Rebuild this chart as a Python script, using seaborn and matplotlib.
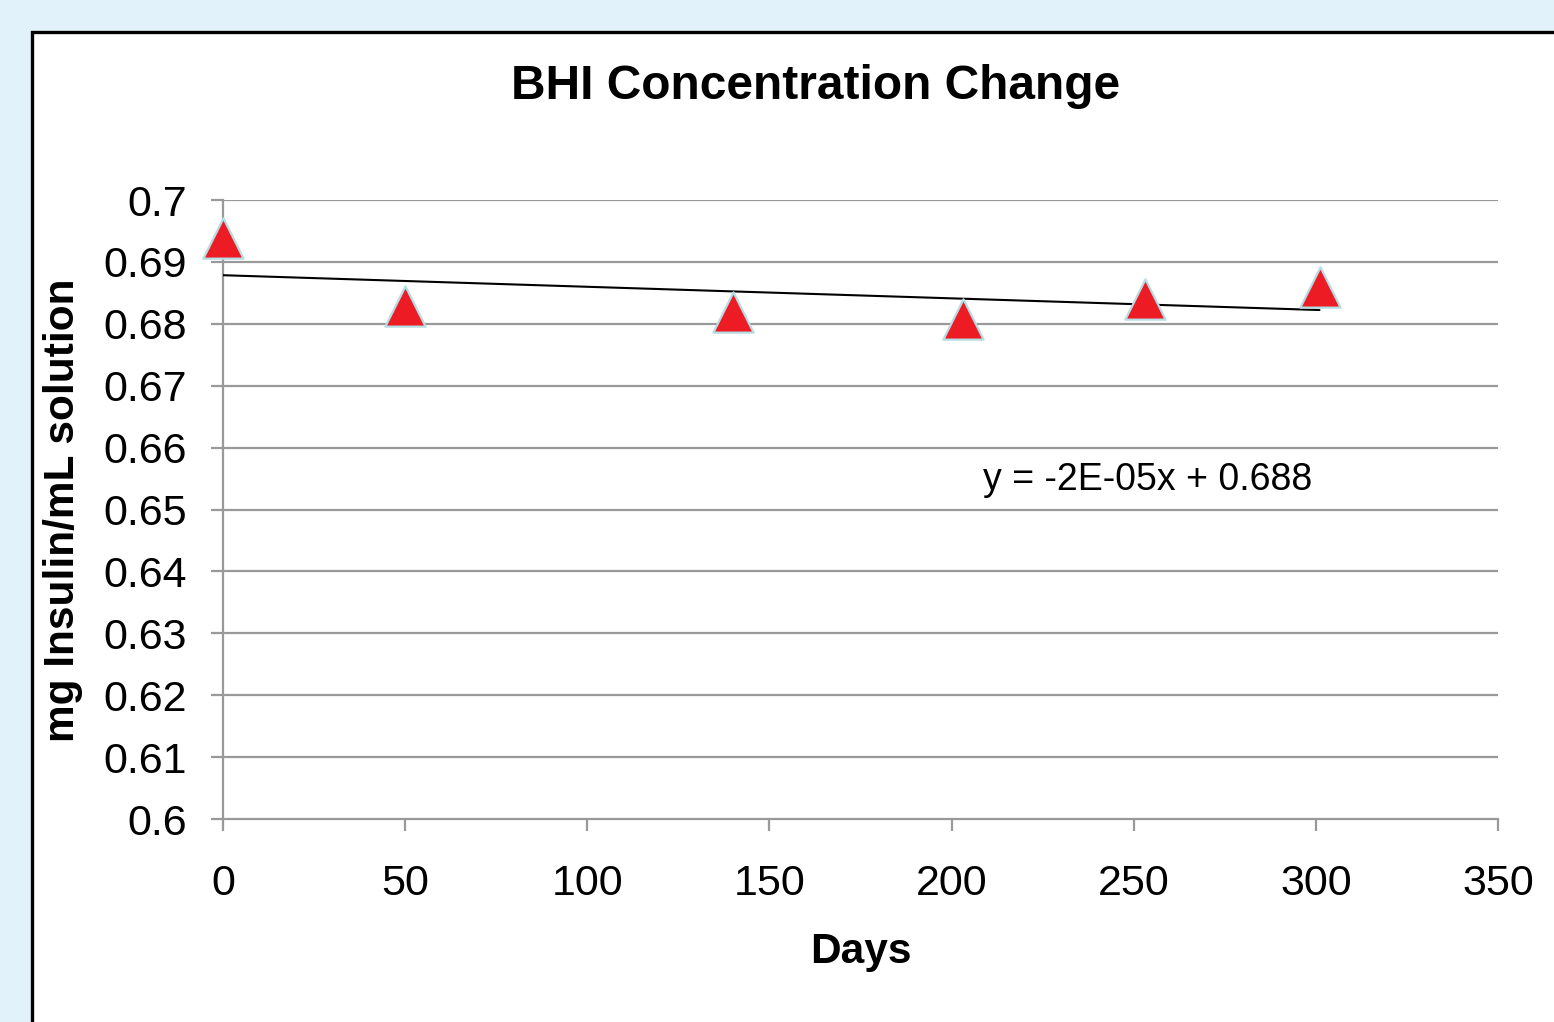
import matplotlib
matplotlib.use("Agg")
import matplotlib.pyplot as plt
from matplotlib.patches import Rectangle
import seaborn as sns
import pandas as pd

days = [0, 50, 140, 203, 253, 301]
conc = [0.6939, 0.6829, 0.6819, 0.6808, 0.6840, 0.6859]
y_ticks = [0.6, 0.61, 0.62, 0.63, 0.64, 0.65, 0.66, 0.67, 0.68, 0.69, 0.7]
y_tick_labels = ["0.6", "0.61", "0.62", "0.63", "0.64", "0.65", "0.66", "0.67", "0.68", "0.69", "0.7"]
x_ticks = [0, 50, 100, 150, 200, 250, 300, 350]
title = "BHI Concentration Change"
x_label = "Days"
y_label = "mg Insulin/mL solution"
equation = "y = -2E-05x + 0.688"

df = pd.DataFrame({"Days": days, "Conc": conc})

sns.set_theme(style="white")
plt.rcParams["font.family"] = ["Liberation Sans", "DejaVu Sans"]
plt.rcParams["text.color"] = "black"

W, H = 1554, 1022
fig = plt.figure(figsize=(W / 100, H / 100), dpi=100)
fig.patch.set_facecolor("#E1F2FB")

# white panel with black border
panel = Rectangle((32 / W, -0.1), 2.0, (1 - 32 / H) + 0.1, transform=fig.transFigure,
                  facecolor="white", edgecolor="black", linewidth=2.4, zorder=-5)
fig.patches.append(panel)

ax = fig.add_axes([223 / W, 1 - 819 / H, (1498 - 223) / W, (819 - 200) / H])
ax.set_facecolor("none")
ax.set_zorder(2)

grid_c = "#999999"
sns.regplot(data=df, x="Days", y="Conc", ax=ax, scatter=False, ci=None, truncate=True,
            line_kws=dict(color="black", linewidth=1.5, zorder=3))
sns.scatterplot(data=df, x="Days", y="Conc", ax=ax, marker="^", s=29 ** 2,
                color="#ED1C24", edgecolor="#B5DDE3", linewidth=1.6, zorder=4, clip_on=False)

ax.set_xlim(0, 350)
ax.set_ylim(0.6, 0.7)
ax.set_yticks(y_ticks)
ax.set_yticklabels(y_tick_labels)
ax.set_xticks(x_ticks)
ax.set_xticklabels([str(v) for v in x_ticks])
ax.set_xlabel("")
ax.set_ylabel("")

for yv in y_ticks[1:]:
    ax.axhline(yv, color=grid_c, linewidth=1.6, zorder=1)

for s in ["top", "right"]:
    ax.spines[s].set_visible(False)
for s in ["left", "bottom"]:
    ax.spines[s].set_color(grid_c)
    ax.spines[s].set_linewidth(1.6)

ax.tick_params(axis="both", which="major", direction="out", length=8.6, width=1.6,
               color=grid_c, labelsize=31, labelcolor="black")
ax.tick_params(axis="y", pad=17.5, left=True)
ax.tick_params(axis="x", pad=24, bottom=True)

ax.text(208.5, 0.6548, equation, fontsize=27, color="black", ha="left", va="center")

fig.text(816 / W, 1 - 86 / H, title, fontsize=34.5, fontweight="bold", ha="center", va="center",
         color="black")
fig.text(861 / W, 1 - 952 / H, x_label, fontsize=30.5, fontweight="bold", ha="center", va="center",
         color="black")
fig.text(63 / W, 1 - 510 / H, y_label, fontsize=30.5, fontweight="bold", ha="center", va="center",
         rotation=90, color="black")

fig.savefig("out.png", dpi=100, facecolor=fig.get_facecolor())
